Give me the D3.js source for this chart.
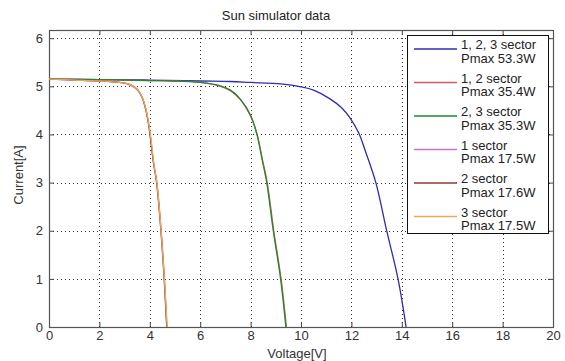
<!DOCTYPE html>
<html>
<head>
<meta charset="utf-8">
<script src="https://cdn.jsdelivr.net/npm/d3@7"></script>
<style>
  body { margin: 0; background: #fff; }
  svg { display: block; font-family: "Liberation Sans", Arial, sans-serif; }
  .grid line { stroke: #000; stroke-dasharray: 1,3; stroke-width: 1; shape-rendering: crispEdges; opacity: 0.8; }
</style>
</head>
<body>
<div id="chart"></div>
<script>
////////// DATA //////////

const xTicks = [0, 2, 4, 6, 8, 10, 12, 14, 16, 18, 20];
const yTicks = [0, 1, 2, 3, 4, 5, 6];

// 1, 2, 3 sector
const v123 = [0, 2, 4, 6, 7.2, 8, 9.2, 10, 10.5, 11.15, 11.6, 11.95, 12.3, 12.55, 12.97, 13.4, 13.85, 14.17];
const i123 = [5.15, 5.14, 5.13, 5.11, 5.10, 5.08, 5.05, 4.99, 4.92, 4.74, 4.56, 4.34, 4.02, 3.66, 3.0, 2.0, 1.0, 0];

// 1, 2 sector
const v12 = [0, 2, 4, 5, 6, 6.8, 7.2, 7.6, 8.0, 8.26, 8.46, 8.66, 8.92, 9.21, 9.42];
const i12 = [5.15, 5.14, 5.12, 5.11, 5.08, 5.0, 4.91, 4.72, 4.38, 4.0, 3.5, 3.0, 2.0, 1.0, 0];

// 2, 3 sector
const v23 = [0, 2, 4, 5, 6, 6.8, 7.2, 7.6, 8.0, 8.25, 8.45, 8.64, 8.9, 9.19, 9.4];
const i23 = [5.15, 5.14, 5.12, 5.11, 5.08, 5.01, 4.92, 4.73, 4.40, 4.0, 3.5, 3.0, 2.0, 1.0, 0];

// single sectors
const v1 = [0, 1, 2, 2.8, 3.2, 3.5, 3.7, 3.85, 3.95, 4.04, 4.15, 4.28, 4.45, 4.58, 4.68];
const i1 = [5.15, 5.13, 5.11, 5.08, 5.03, 4.93, 4.76, 4.49, 4.22, 3.9, 3.4, 3.0, 2.0, 1.0, 0];
const v2 = [0, 1, 2, 2.8, 3.2, 3.5, 3.7, 3.85, 3.95, 4.03, 4.15, 4.27, 4.44, 4.57, 4.67];
const i2 = [5.15, 5.13, 5.11, 5.08, 5.04, 4.94, 4.77, 4.50, 4.22, 3.9, 3.4, 3.0, 2.0, 1.0, 0];
const v3 = [0, 1, 2, 2.8, 3.2, 3.5, 3.7, 3.86, 3.96, 4.05, 4.16, 4.28, 4.45, 4.58, 4.69];
const i3 = [5.15, 5.13, 5.11, 5.08, 5.04, 4.94, 4.77, 4.50, 4.22, 3.9, 3.4, 3.0, 2.0, 1.0, 0];

const seriesNames = ["1, 2, 3 sector", "1, 2 sector", "2, 3 sector", "1 sector", "2 sector", "3 sector"];
const seriesPmax = ["Pmax 53.3W", "Pmax 35.4W", "Pmax 35.3W", "Pmax 17.5W", "Pmax 17.6W", "Pmax 17.5W"];
const seriesColours = ["#2c2cb4", "#d65a5e", "#1e8a30", "#c674cc", "#8e3c2a", "#e8aa58"];
const seriesV = [v123, v12, v23, v1, v2, v3];
const seriesI = [i123, i12, i23, i1, i2, i3];


////////// SETUP //////////

const width = 565, height = 361;
const margin = { top: 30, right: 12, bottom: 34, left: 49 };
const innerW = width - margin.left - margin.right;
const innerH = height - margin.top - margin.bottom;

const x = d3.scaleLinear().domain([0, 20]).range([0, innerW]);
const y = d3.scaleLinear().domain([0, 6.17]).range([innerH, 0]);

const svg = d3.select("#chart").append("svg")
    .attr("width", width)
    .attr("height", height);

const g = svg.append("g")
    .attr("transform", "translate(" + margin.left + "," + margin.top + ")");

// grid
const grid = g.append("g").attr("class", "grid");
grid.selectAll(".gx")
    .data(xTicks.slice(1, -1))
    .enter().append("line")
    .attr("x1", d => Math.round(x(d)) + 0.5)
    .attr("x2", d => Math.round(x(d)) + 0.5)
    .attr("y1", 0)
    .attr("y2", innerH);
grid.selectAll(".gy")
    .data(yTicks.slice(1))
    .enter().append("line")
    .attr("x1", 0)
    .attr("x2", innerW)
    .attr("y1", d => Math.round(y(d)) + 0.5)
    .attr("y2", d => Math.round(y(d)) + 0.5);

// axes with inward ticks on all sides
const tickStyle = sel => {
  sel.select(".domain").remove();
  sel.selectAll(".tick line").attr("stroke", "#444");
  sel.selectAll(".tick text").attr("fill", "#333").style("font-size", "13px");
};

g.append("g")
    .attr("transform", "translate(0," + innerH + ")")
    .call(d3.axisBottom(x).tickValues(xTicks).tickSizeInner(-5).tickSizeOuter(0).tickPadding(4))
    .call(tickStyle);
g.append("g")
    .call(d3.axisTop(x).tickValues(xTicks).tickSizeInner(-5).tickSizeOuter(0).tickFormat(""))
    .call(tickStyle);
g.append("g")
    .call(d3.axisLeft(y).tickValues(yTicks).tickFormat(d3.format("d")).tickSizeInner(-5).tickSizeOuter(0).tickPadding(6))
    .call(tickStyle);
g.append("g")
    .attr("transform", "translate(" + innerW + ",0)")
    .call(d3.axisRight(y).tickValues(yTicks).tickSizeInner(-5).tickSizeOuter(0).tickFormat(""))
    .call(tickStyle);

g.append("rect")
    .attr("x", 0.5).attr("y", 0.5)
    .attr("width", innerW).attr("height", innerH)
    .attr("fill", "none")
    .attr("stroke", "#555")
    .attr("stroke-width", 1.2);


////////// CURVES //////////

const line = d3.line()
    .x(d => x(d[0]))
    .y(d => y(d[1]))
    .curve(d3.curveCatmullRom.alpha(0.5));

seriesV.forEach((vs, k) => {
  g.append("path")
      .datum(vs.map((v, j) => [v, seriesI[k][j]]))
      .attr("d", line)
      .attr("fill", "none")
      .attr("stroke", seriesColours[k])
      .attr("stroke-width", 1.3);
});


////////// LEGEND //////////

const legend = svg.append("g").attr("transform", "translate(407,35)");
legend.append("rect")
    .attr("x", 0.5).attr("y", 0.5)
    .attr("width", 141).attr("height", 198)
    .attr("fill", "#fff")
    .attr("stroke", "#111");

seriesNames.forEach((name, k) => {
  const row = legend.append("g").attr("transform", "translate(0," + (14 + k * 33.5) + ")");
  row.append("line")
      .attr("x1", 7).attr("x2", 50)
      .attr("y1", 0).attr("y2", 0)
      .attr("stroke", seriesColours[k])
      .attr("stroke-width", 1.3);
  row.append("text")
      .attr("x", 54).attr("y", 0)
      .attr("fill", "#222")
      .style("font-size", "13px")
      .text(name);
  row.append("text")
      .attr("x", 54).attr("y", 13.5)
      .attr("fill", "#222")
      .style("font-size", "13px")
      .text(seriesPmax[k]);
});


////////// TITLES //////////

svg.append("text")
    .attr("x", 276).attr("y", 20)
    .attr("text-anchor", "middle")
    .attr("fill", "#222")
    .style("font-size", "13px")
    .text("Sun simulator data");

svg.append("text")
    .attr("x", 297).attr("y", 358)
    .attr("text-anchor", "middle")
    .attr("fill", "#333")
    .style("font-size", "13px")
    .text("Voltage[V]");

svg.append("text")
    .attr("transform", "translate(23,175) rotate(-90)")
    .attr("text-anchor", "middle")
    .attr("fill", "#333")
    .style("font-size", "13px")
    .text("Current[A]");
</script>
</body>
</html>
